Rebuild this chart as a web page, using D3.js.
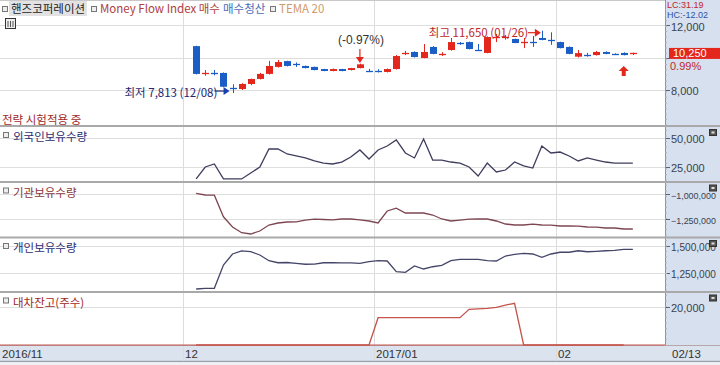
<!DOCTYPE html>
<html><head><meta charset="utf-8">
<script src="https://cdn.jsdelivr.net/npm/d3@7"></script>
<style>
body{margin:0;background:#fff;overflow:hidden;}
text{font-family:"Noto Sans CJK KR","Liberation Sans",sans-serif;}
.num{font-family:"Liberation Sans",Arial,sans-serif;}
.ax{font-family:"Liberation Sans",Arial,sans-serif;}
</style></head><body>
<svg id="c" width="720" height="365"></svg>
<script>
// ---------- data ----------
const dates = ["12/02","12/05","12/06","12/07","12/08","12/09","12/12","12/13","12/14","12/15","12/16","12/19","12/20","12/21","12/22","12/23","12/26","12/27","12/28","12/29",
 "01/02","01/03","01/04","01/05","01/06","01/09","01/10","01/11","01/12","01/13","01/16","01/17","01/18","01/19","01/20","01/23","01/24","01/25","01/26","01/31",
 "02/01","02/02","02/03","02/06","02/07","02/08","02/09","02/10","02/13"];
const open  = [10700,9040,9070,9050,8150,8060,8370,8680,8990,9420,9780,9600,9480,9420,9290,9170,9290,9230,9350,9200,
 9180,9110,9290,10260,10340,9970,10650,10200,10460,10900,10950,10490,10280,11250,11250,11140,10940,10970,11200,11080,
 10950,10650,10050,10170,10150,10340,10220,10280,10200];
const high  = [10720,9230,9230,9080,8350,8420,8700,9050,9790,9850,9800,9700,9500,9440,9300,9320,9300,9360,9620,9300,
 9280,9320,10150,10400,10380,10830,10700,10330,11200,10950,10980,10830,11300,11450,11380,11160,11200,11320,11650,11550,
 10970,10680,10460,10280,10400,10380,10260,10320,10300];
const low   = [8960,8880,8900,8180,7813,8000,8300,8650,8950,9380,9450,9420,9330,9210,9150,9150,9150,9200,9330,9100,
 9080,9080,9260,10150,10000,9950,10200,10100,10420,10780,10500,10440,10260,10950,11100,10880,10580,10650,11060,10780,
 10560,10200,10000,10050,10120,10200,10180,10130,10150];
const close = [8990,9060,9050,8200,8130,8370,8680,8990,9480,9720,9480,9580,9350,9230,9170,9290,9170,9350,9580,9180,
 9150,9290,10090,10280,10030,10340,10220,10230,10950,10880,10520,10460,11260,11270,11270,10890,10960,10950,11080,11060,
 10580,10220,10270,10150,10340,10220,10200,10150,10250];
const foreign = [14700,25000,27600,14700,14700,14700,19800,25000,40500,40500,36200,34500,32800,30200,28400,27600,29300,33600,39700,31900,
 39700,43100,48300,37100,32800,49100,31000,31000,29300,28400,25000,17200,28400,20700,22400,29300,25900,24100,43100,37100,
 37900,34500,30200,32800,31000,29300,28400,28400,28400];
const inst = [-993000,-1010000,-1012000,-1228000,-1330000,-1387000,-1400000,-1370000,-1310000,-1290000,-1280000,-1278000,-1262000,-1252000,-1255000,-1258000,-1250000,-1250000,-1258000,-1270000,
 -1290000,-1170000,-1142000,-1190000,-1190000,-1190000,-1210000,-1250000,-1270000,-1262000,-1252000,-1250000,-1250000,-1270000,-1300000,-1310000,-1310000,-1302000,-1310000,-1312000,
 -1320000,-1320000,-1322000,-1330000,-1332000,-1340000,-1340000,-1350000,-1350000];
const indiv = [1102000,1108000,1108000,1324000,1426000,1454000,1447000,1417000,1364000,1345000,1347000,1340000,1331000,1333000,1345000,1345000,1343000,1343000,1340000,1355000,
 1364000,1361000,1262000,1256000,1315000,1287000,1308000,1321000,1364000,1377000,1377000,1377000,1364000,1361000,1407000,1423000,1432000,1426000,1395000,1426000,
 1442000,1442000,1456000,1447000,1451000,1456000,1460000,1469000,1469000];
const lending = [0,0,0,0,0,0,0,0,0,0,0,0,0,0,0,0,0,0,0,0,
 14360,14360,14360,14360,14360,14360,14360,14360,14360,14360,18780,19000,19300,19830,21040,21930,0,0,0,0,
 0,0,0,0,0,0,0,0,null];
const monthLabels = ["2016/11","12","2017/01","02"];
const monthStartIdx = [-22,0,21,41];   // trading-day index of month start (12/01 = 0)
const priceTicks = [8000,10000,12000];
const priceLabelTicks = [8000,12000];  // 10,000 is hidden behind the last-price box
const foreignTicks = [25000,50000];
const instTicks = [-1250000,-1000000];
const indivTicks = [1250000,1500000];
const lendingTicks = [20000];

// ---------- layout ----------
const svg = d3.select("#c");
const PR = 665;           // plot right edge
const red="#e3271d", blue="#1b5dc6";
const fmt = d3.format(",");
const x = d3.scaleLinear().domain([0,41]).range([182.5,555.5]);
const cx = i => x(i+1.5);  // data index -> candle centre (12/02 is day 1)

const panels = [
 {key:"price", y:d3.scaleLinear().domain([8000,12000]).range([90,25]), top:0, bottom:126, ticks:priceTicks, labels:priceLabelTicks},
 {key:"foreign", y:d3.scaleLinear().domain([25000,50000]).range([167,138]), top:127, bottom:181.5, ticks:foreignTicks, data:foreign, color:"#3e3d5e", title:"외국인보유수량", tcol:"#2d2d72"},
 {key:"inst", y:d3.scaleLinear().domain([-1250000,-1000000]).range([219,194]), top:182.5, bottom:237, ticks:instTicks, data:inst, color:"#7d4652", title:"기관보유수량", tcol:"#8a3535"},
 {key:"indiv", y:d3.scaleLinear().domain([1250000,1500000]).range([273,246]), top:238, bottom:291.5, ticks:indivTicks, data:indiv, color:"#45456a", title:"개인보유수량", tcol:"#2d2d72"},
 {key:"lend", y:d3.scaleLinear().domain([0,20000]).range([345,307]), top:292.5, bottom:345, ticks:lendingTicks, data:lending, color:"#c4544c", title:"대차잔고(주수)", tcol:"#a02828"}
];

function fitText(t, maxRight){
  const n = t.node(); const w = n.getComputedTextLength(); const x0 = +t.attr("x");
  if (x0 + w > maxRight) {
    const fs = +t.attr("font-size") * (maxRight - x0) / w;
    t.attr("font-size", fs.toFixed(2));
  }
}

// right axis background + bottom bar
svg.append("rect").attr("x",PR).attr("y",0).attr("width",720-PR).attr("height",346).attr("fill","#d6e0ee");
svg.append("rect").attr("x",0).attr("y",346).attr("width",720).attr("height",15).attr("fill","#dbe3ef");
svg.append("line").attr("x1",0).attr("x2",720).attr("y1",361.5).attr("y2",361.5).attr("stroke","#9aa3ad").attr("stroke-width",1.5);
svg.append("rect").attr("x",0).attr("y",362.5).attr("width",720).attr("height",3).attr("fill","#eef0f3");
svg.append("line").attr("x1",0).attr("x2",720).attr("y1",0.5).attr("y2",0.5).attr("stroke","#c8c8c8");

// vertical gridlines
monthStartIdx.slice(1).forEach(i=>{
  svg.append("line").attr("x1",Math.round(x(i))+0.5).attr("x2",Math.round(x(i))+0.5)
    .attr("y1",1).attr("y2",361).attr("stroke","#dcdcdc");
});

// horizontal gridlines + right axis ticks/labels
panels.forEach(p=>{
  const lab = p.labels || p.ticks;
  p.ticks.forEach(t=>{
    const yy = Math.round(p.y(t))+0.5;
    svg.append("line").attr("x1",0).attr("x2",PR).attr("y1",yy).attr("y2",yy).attr("stroke","#dedede");
    svg.append("line").attr("x1",PR).attr("x2",PR+5).attr("y1",yy).attr("y2",yy).attr("stroke","#5a6270");
    if (lab.includes(t)) {
      const tx = svg.append("text").attr("class","ax").attr("x",PR+6).attr("y",yy+(t===12000?5:4)).attr("font-size",11)
        .attr("fill","#3a4250").text(fmt(t));
      fitText(tx, 716);
    }
  });
});
// axis line with minor ticks
svg.append("line").attr("x1",PR+0.5).attr("x2",PR+0.5).attr("y1",0).attr("y2",346).attr("stroke","#8a94a2");
for(let yy=4; yy<345; yy+=5.5){
  svg.append("line").attr("x1",PR).attr("x2",PR+2).attr("y1",yy).attr("y2",yy).attr("stroke","#a8b0bc");
}

// separators
[126,182,237.5,292].forEach(s=>{
  svg.append("line").attr("x1",0).attr("x2",720).attr("y1",s).attr("y2",s).attr("stroke","#a9a9a9").attr("stroke-width",2);
});
svg.append("line").attr("x1",0).attr("x2",720).attr("y1",345.5).attr("y2",345.5).attr("stroke","#b7a6a8");

// series lines
panels.slice(1).forEach(p=>{
  if(p.key==="lend"){
    svg.append("line").attr("x1",0).attr("x2",PR).attr("y1",p.y(0)).attr("y2",p.y(0)).attr("stroke",p.color).attr("stroke-width",1);
  }
  const line = d3.line().defined(d=>d!=null).x((d,i)=>cx(i)).y(d=>p.y(d));
  svg.append("path").datum(p.data).attr("d",line).attr("fill","none").attr("stroke",p.color).attr("stroke-width",1.3);
  // title
  const ty = p.top+10;
  svg.append("rect").attr("x",3.5).attr("y",ty-4.5).attr("width",5).attr("height",5).attr("fill","#eee").attr("stroke","#777");
  svg.append("text").attr("x",13).attr("y",ty+4).attr("font-size",11.5).attr("fill",p.tcol).text(p.title);
  // small icon on right
  svg.append("rect").attr("x",709.5).attr("y",p.top+2.5).attr("width",7).attr("height",6).attr("fill","#555").attr("stroke","#333");
  svg.append("rect").attr("x",711.5).attr("y",p.top+4.5).attr("width",3).attr("height",2).attr("fill","#ddd");
});

// candles
const py = panels[0].y;
const g = svg.append("g");
dates.forEach((d,i)=>{
  const o=open[i],c=close[i],h=high[i],l=low[i];
  const col = c>=o ? red : blue;
  const xc = Math.round(cx(i))+0.5;
  g.append("line").attr("x1",xc).attr("x2",xc).attr("y1",py(h)).attr("y2",py(l)).attr("stroke",col).attr("stroke-width",1);
  const top = py(Math.max(o,c)), bot = py(Math.min(o,c));
  if(bot-top < 1.5){
    g.append("line").attr("x1",xc-3.5).attr("x2",xc+3.5).attr("y1",Math.round(top)+0.5).attr("y2",Math.round(top)+0.5).attr("stroke",col).attr("stroke-width",1.3);
  } else {
    g.append("rect").attr("x",xc-3.5).attr("y",top).attr("width",7).attr("height",bot-top).attr("fill",col);
  }
});

// annotations in price panel
const iLow = low.indexOf(d3.min(low)), iHigh = high.indexOf(d3.max(high));
const lowX = cx(iLow), lowY = py(low[iLow]);
svg.append("text").attr("x",lowX-108).attr("y",lowY+4).attr("font-size",11.5).attr("fill","#25256e")
  .text("최저 "+fmt(low[iLow])+" ("+dates[iLow]+")");
svg.append("line").attr("x1",lowX-18).attr("x2",lowX-8).attr("y1",lowY-2).attr("y2",lowY-2).attr("stroke","#25256e").attr("stroke-width",1.2);
svg.append("path").attr("d",`M${lowX-9},${lowY-6}L${lowX-3},${lowY-2}L${lowX-9},${lowY+2}Z`).attr("fill","#1a3fb0");

const hiX = cx(iHigh), hiY = py(high[iHigh]);
svg.append("text").attr("x",hiX-113).attr("y",hiY+6).attr("font-size",11.5).attr("fill","#c0282a")
  .text("최고 "+fmt(high[iHigh])+" ("+dates[iHigh]+")");
svg.append("line").attr("x1",hiX-14).attr("x2",hiX-6).attr("y1",hiY+2).attr("y2",hiY+2).attr("stroke",red).attr("stroke-width",1.2);
svg.append("path").attr("d",`M${hiX-7},${hiY-2}L${hiX-1},${hiY+2}L${hiX-7},${hiY+6}Z`).attr("fill",red);

// (-0.97%) marker
const mI = 18, mX = cx(mI);
svg.append("text").attr("x",mX-22).attr("y",44).attr("font-size",12).attr("fill","#333").attr("class","num").text("(-0.97%)");
svg.append("line").attr("x1",mX).attr("x2",mX).attr("y1",49).attr("y2",58).attr("stroke",red).attr("stroke-width",1.2);
svg.append("path").attr("d",`M${mX-4},${57}L${mX},${63}L${mX+4},${57}Z`).attr("fill",red);

// up arrow under last candles
const uX = cx(47);
svg.append("path").attr("d",`M${uX},66L${uX+5},71L${uX+2},71L${uX+2},76L${uX-2},76L${uX-2},71L${uX-5},71Z`).attr("fill",red);

// top legend
svg.append("rect").attr("x",2.5).attr("y",6.5).attr("width",5).attr("height",5).attr("fill","#eee").attr("stroke","#777");
svg.append("rect").attr("x",9).attr("y",1).attr("width",78).attr("height",15).attr("fill","#e2e2e2");
svg.append("text").attr("x",11).attr("y",13).attr("font-size",11.5).attr("fill","#222").text("핸즈코퍼레이션");
svg.append("rect").attr("x",91.5).attr("y",6.5).attr("width",5).attr("height",5).attr("fill","#eee").attr("stroke","#777");
svg.append("text").attr("x",100).attr("y",13).attr("font-size",11.5).attr("fill","#b0403c").text("Money Flow Index 매수");
svg.append("text").attr("x",223).attr("y",13).attr("font-size",11.5).attr("fill","#4a6cb8").text("매수청산");
svg.append("rect").attr("x",270.5).attr("y",6.5).attr("width",5).attr("height",5).attr("fill","#eee").attr("stroke","#777");
svg.append("text").attr("x",279).attr("y",13).attr("font-size",11.5).attr("fill","#d09a6a").text("TEMA 20");
// table icon
svg.append("rect").attr("x",5.5).attr("y",18.5).attr("width",10).attr("height",10).attr("fill","#eee").attr("stroke","#333");
[8,10.5,13].forEach(v=>svg.append("line").attr("x1",v).attr("x2",v).attr("y1",21).attr("y2",27).attr("stroke","#555"));
svg.append("text").attr("x",2).attr("y",124).attr("font-size",11.5).attr("fill","#a02a2a").text("전략 시험적용 중");

// right panel price labels
svg.append("rect").attr("x",PR+1).attr("y",0).attr("width",720-PR-1).attr("height",20).attr("fill","#d6e0ee");
svg.append("text").attr("class","ax").attr("x",PR+2).attr("y",8.2).attr("font-size",9).attr("fill","#c0282a").text("LC:31.19");
svg.append("text").attr("class","ax").attr("x",PR+2).attr("y",18.4).attr("font-size",9).attr("fill","#2a55a8").text("HC:-12.02");
const last = close[close.length-1], prev = close[close.length-2];
const ly = py(last);
svg.append("rect").attr("x",PR+4).attr("y",ly-5.5).attr("width",720-PR-4).attr("height",11).attr("fill",red);
svg.append("text").attr("class","ax").attr("x",PR+8).attr("y",ly+4).attr("font-size",11).attr("fill","#fff").text(fmt(last));
svg.append("text").attr("class","ax").attr("x",PR+5).attr("y",ly+17).attr("font-size",11).attr("fill","#c0282a")
  .text(d3.format(".2f")((last-prev)/prev*100)+"%");

// bottom axis labels
monthLabels.forEach((m,k)=>{
  const xx = k===0 ? 2 : Math.round(x(monthStartIdx[k]))+2;
  svg.append("text").attr("class","num").attr("x",xx).attr("y",358).attr("font-size",11.5).attr("fill","#333").text(m);
});
svg.append("text").attr("class","num").attr("x",PR+7).attr("y",358).attr("font-size",11.5).attr("fill","#333").text(dates[dates.length-1]);
</script>
</body></html>
